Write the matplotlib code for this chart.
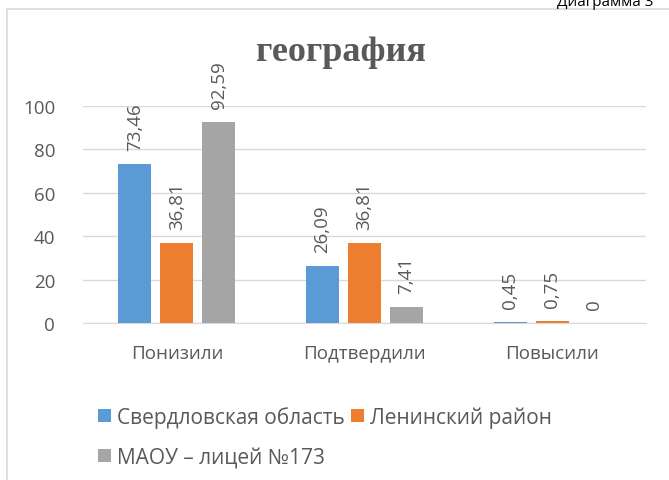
import numpy as np
import matplotlib.pyplot as plt
from matplotlib.patches import Rectangle

# данные диаграммы
categories = ['Понизили', 'Подтвердили', 'Повысили']
series_names = ['Свердловская область', 'Ленинский район', 'МАОУ – лицей №173']
sverdlovsk = [73.46, 26.09, 0.45]
leninsky = [36.81, 36.81, 0.75]
lyceum = [92.59, 7.41, 0]
labels = [['73,46', '26,09', '0,45'],
          ['36,81', '36,81', '0,75'],
          ['92,59', '7,41', '0']]
yticks = [0, 20, 40, 60, 80, 100]

colors = ['#5B9BD5', '#ED7D31', '#A5A5A5']
txt = '#595959'
plt.rcParams['font.family'] = ['Open Sans', 'DejaVu Sans']

fig = plt.figure(figsize=(6.69, 4.81), dpi=100)
ax = fig.add_axes([83/669, 1 - 324/481, (646-83)/669, (324-107)/481])

x = np.arange(len(categories))
w = 0.176
off = 0.224
bars = []
for i, vals in enumerate([sverdlovsk, leninsky, lyceum]):
    b = ax.bar(x + (i-1)*off, vals, w, color=colors[i], label=series_names[i], zorder=3)
    bars.append(b)
    for xi, v, s in zip(x + (i-1)*off, vals, labels[i]):
        ax.annotate(s, (xi, v), xytext=(0, 10), textcoords='offset points',
                    rotation=90, ha='center', va='bottom', fontsize=13.5, color=txt)

ax.set_xlim(-0.5, 2.5)
ax.set_ylim(0, 100)
ax.set_yticks(yticks)
ax.set_xticks(x)
ax.set_xticklabels(categories)
ax.tick_params(length=0, labelsize=13.5, colors=txt)
ax.tick_params(axis='x', pad=15)
ax.tick_params(axis='y', pad=20)
ax.grid(axis='y', color='#D9D9D9', lw=1, zorder=0)
for s in ['top', 'right', 'left']:
    ax.spines[s].set_visible(False)
ax.spines['bottom'].set_color('#D9D9D9')

fig.text(341/669, 1 - 53/481, 'география', ha='center', va='center',
         family='Liberation Serif', weight='bold', fontsize=26, color=txt)
fig.text(557/669, 1 - 6/481, 'Диаграмма 3', ha='left', va='baseline', fontsize=11, color='#000000')

fig.patches.append(Rectangle((7/669, -0.1), 1.2, 1 - 10/481 + 0.1, transform=fig.transFigure,
                             fill=False, edgecolor='#D9D9D9', lw=1.2))

# порядок: колонка 1 — Свердловская, МАОУ; колонка 2 — Ленинский
handles = [bars[0], bars[2], bars[1]]
names = [series_names[0], series_names[2], series_names[1]]
fig.legend(handles, names, loc='upper left', bbox_to_anchor=(90/669, 1 - 399/481), ncol=2,
           frameon=False, fontsize=15, labelcolor=txt, handlelength=0.6, handleheight=0.6,
           handletextpad=0.3, columnspacing=0.3, labelspacing=0.9, borderaxespad=0)

fig.savefig('out.png', dpi=100)
